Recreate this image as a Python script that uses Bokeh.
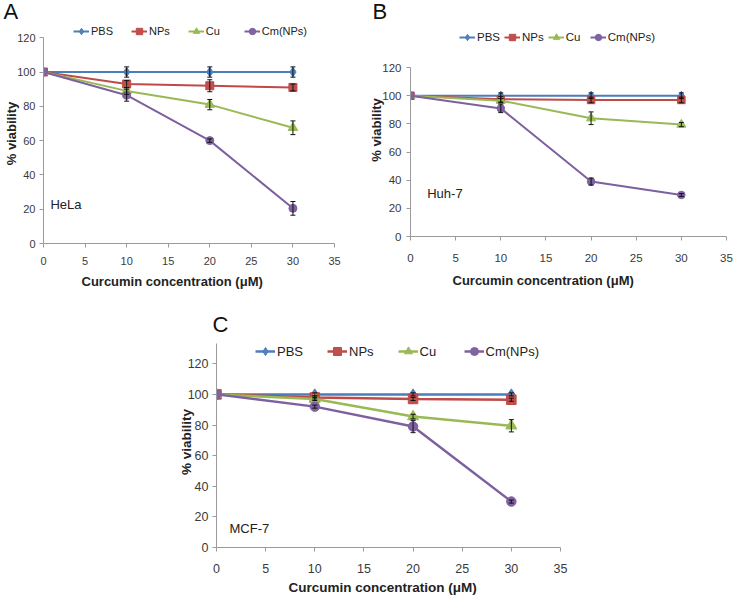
from bokeh.plotting import figure
from bokeh.models import (Range1d, FixedTicker, Label, Legend, LegendItem,
                          Whisker, TeeHead, ColumnDataSource, Spacer, Title)
from bokeh.layouts import row, column
from bokeh.embed import file_html
from bokeh.resources import INLINE

# ---------------- data ----------------
series_names = ["PBS", "NPs", "Cu", "Cm(NPs)"]
x_ticks = [0, 5, 10, 15, 20, 25, 30, 35]
y_ticks = [0, 20, 40, 60, 80, 100, 120]
x_title = "Curcumin concentration (μM)"
y_title = "% viability"

# Panel A - HeLa
a_conc = [0, 10, 20, 30]
a_pbs = [100, 100, 100, 100]
a_nps = [100, 93, 92, 91]
a_cu = [100, 89, 81, 67.5]
a_cm = [100, 86.5, 60, 20.5]
a_pbs_err = [0, 3, 3, 3]
a_nps_err = [0, 2, 3.5, 2]
a_cu_err = [0, 2, 3, 4]
a_cm_err = [0, 3.5, 1, 4]

# Panel B - Huh-7
b_conc = [0, 10, 20, 30]
b_pbs = [100, 100, 100, 100]
b_nps = [100, 97.5, 97, 97]
b_cu = [100, 96.5, 84, 79.5]
b_cm = [100, 91, 39, 29.5]
b_pbs_err = [0, 2, 2, 2]
b_nps_err = [0, 2, 2, 2]
b_cu_err = [0, 1.5, 4.5, 1.5]
b_cm_err = [0, 3, 2.5, 1]

# Panel C - MCF-7
c_conc = [0, 10, 20, 30]
c_pbs = [100, 100, 100, 100]
c_nps = [100, 98, 97, 96.5]
c_cu = [100, 97, 85.5, 79.5]
c_cm = [100, 92, 79, 30]
c_pbs_err = [0, 1, 1, 1]
c_nps_err = [0, 1, 1, 1]
c_cu_err = [0, 1, 1.5, 4]
c_cm_err = [0, 1, 4, 1]

line_colors = ["#4A7EBB", "#BE4B48", "#98B954", "#7D60A0"]
fill_colors = ["#4F81BD", "#C0504D", "#9BBB59", "#8064A2"]
markers = ["diamond", "square", "triangle", "circle"]

FONT = "Liberation Sans"
AXIS_COLOR = "#9a9a9a"
TICK_TEXT = "#3a3a3a"
TEXT = "#222222"


def make_panel(cfg):
    p = figure(width=cfg["width"], height=cfg["height"],
               x_range=Range1d(0, 35), y_range=Range1d(0, cfg["ymax"]),
               output_backend="svg", toolbar_location=None,
               min_border_left=cfg["mbl"], min_border_right=cfg["mbr"],
               min_border_top=cfg["mbt"], min_border_bottom=cfg["mbb"])
    p.outline_line_color = None
    p.xgrid.visible = False
    p.ygrid.visible = False
    p.background_fill_color = "white"
    p.border_fill_color = "white"

    # panel letter as the plot title
    p.title.text = cfg["letter"]
    p.title.align = "left"
    p.title.offset = cfg["letter_offset"]
    p.title.standoff = cfg["letter_standoff"]
    p.title.vertical_align = cfg["letter_valign"]
    p.title.text_font = FONT
    p.title.text_font_size = "22px"
    p.title.text_font_style = "normal"
    p.title.text_color = "#111111"

    for ax, ticks, bounds in ((p.xaxis, x_ticks, (0, 35)), (p.yaxis, y_ticks, (0, cfg["ybound"]))):
        ax.ticker = FixedTicker(ticks=ticks)
        ax.bounds = bounds
        ax.axis_line_color = AXIS_COLOR
        ax.axis_line_width = 1
        ax.major_tick_line_color = AXIS_COLOR
        ax.major_tick_out = 4
        ax.major_tick_in = 0
        ax.minor_tick_line_color = None
        ax.major_label_text_font = FONT
        ax.major_label_text_font_size = cfg["tick_fs"]
        ax.major_label_text_color = TICK_TEXT
    p.xaxis.major_label_standoff = cfg["xstand"]
    p.yaxis.major_label_standoff = cfg["ystand"]

    p.yaxis.axis_label = y_title
    p.yaxis.axis_label_text_font = FONT
    p.yaxis.axis_label_text_font_size = cfg["title_fs"]
    p.yaxis.axis_label_text_font_style = "bold"
    p.yaxis.axis_label_text_color = TEXT
    p.yaxis.axis_label_standoff = cfg["ytitle_standoff"]

    xt = Title(text=x_title, align="left", offset=cfg["xtitle_offset"],
               standoff=cfg["xtitle_standoff"], text_font=FONT,
               text_font_size=cfg["title_fs"], text_font_style="bold",
               text_color=TEXT)
    p.add_layout(xt, "below")

    items = []
    for i, name in enumerate(series_names):
        ys = cfg["series"][i]
        lr = p.line(cfg["conc"], ys, line_color=line_colors[i], line_width=cfg["lw"])
        extra = 1.5 if markers[i] in ("diamond", "triangle") else 0
        sr = p.scatter(cfg["conc"], ys, marker=markers[i], size=cfg["msize"] + extra,
                       fill_color=fill_colors[i], line_color=line_colors[i], line_width=1)
        items.append(LegendItem(label=name, renderers=[lr, sr]))
        errs = cfg["errors"][i]
        base, lo, up = [], [], []
        for xv, yv, e in zip(cfg["conc"], ys, errs):
            if e > 0:
                base.append(xv)
                lo.append(yv - e)
                up.append(yv + e)
        if base:
            src = ColumnDataSource(dict(base=base, lower=lo, upper=up))
            w = Whisker(source=src, base="base", lower="lower", upper="upper",
                        dimension="height", line_color="#111111", line_width=1,
                        level="annotation",
                        upper_head=TeeHead(size=5, line_color="#111111", line_width=1),
                        lower_head=TeeHead(size=5, line_color="#111111", line_width=1))
            p.add_layout(w)

    leg = Legend(items=items, orientation="horizontal", location=cfg["leg_loc"],
                 padding=0, margin=0, spacing=cfg["leg_spacing"],
                 glyph_width=cfg["leg_gw"], glyph_height=cfg["leg_gh"],
                 label_height=cfg["leg_gh"],
                 label_standoff=cfg["leg_standoff"],
                 label_text_font=FONT, label_text_font_size=cfg["leg_fs"],
                 label_text_color=TEXT,
                 border_line_alpha=0, background_fill_alpha=0)
    p.add_layout(leg)

    x, y, txt = cfg["cell"]
    p.add_layout(Label(x=x, y=y, text=txt, text_font=FONT, text_font_size="13px",
                       text_align="left", text_baseline="middle", text_color=TEXT))
    return p


cfgA = dict(width=366, height=300, ymax=128.3, ybound=120,
            mbl=43, mbr=32, mbt=22, mbb=57,
            letter="A", letter_offset=-40, letter_standoff=-4, letter_valign="top",
            tick_fs="11px", xstand=9, ystand=4, lw=2, msize=8,
            title_fs="13px", ytitle_standoff=-5, xtitle_offset=38, xtitle_standoff=8,
            conc=a_conc, series=[a_pbs, a_nps, a_cu, a_cm],
            errors=[a_pbs_err, a_nps_err, a_cu_err, a_cm_err],
            leg_loc=(30, 204), leg_spacing=18, leg_gw=16, leg_gh=16,
            leg_standoff=2, leg_fs="11px",
            cell=(0.84, 22.7, "HeLa"))

cfgB = dict(width=367, height=293, ymax=151.3, ybound=120,
            mbl=44, mbr=7, mbt=22, mbb=57,
            letter="B", letter_offset=-38, letter_standoff=-4, letter_valign="top",
            tick_fs="11.5px", xstand=13, ystand=5, lw=2, msize=7.5,
            title_fs="13px", ytitle_standoff=-5, xtitle_offset=42, xtitle_standoff=12,
            conc=b_conc, series=[b_pbs, b_nps, b_cu, b_cm],
            errors=[b_pbs_err, b_nps_err, b_cu_err, b_cm_err],
            leg_loc=(49, 191), leg_spacing=4, leg_gw=16, leg_gh=16,
            leg_standoff=2, leg_fs="11.5px",
            cell=(1.85, 30.75, "Huh-7"))

cfgC = dict(width=420, height=297, ymax=137.8, ybound=133,
            mbl=46, mbr=30, mbt=36, mbb=48,
            letter="C", letter_offset=-4, letter_standoff=0, letter_valign="bottom",
            tick_fs="12.5px", xstand=12, ystand=4, lw=2.5, msize=9.5,
            title_fs="13.5px", ytitle_standoff=-9, xtitle_offset=72, xtitle_standoff=5,
            conc=c_conc, series=[c_pbs, c_nps, c_cu, c_cm],
            errors=[c_pbs_err, c_nps_err, c_cu_err, c_cm_err],
            leg_loc=(39, 185), leg_spacing=24, leg_gw=20, leg_gh=22,
            leg_standoff=2, leg_fs="13px",
            cell=(1.32, 12.3, "MCF-7"))

pA = make_panel(cfgA)
pB = make_panel(cfgB)
pC = make_panel(cfgC)

layout = column(row(pA, pB), row(Spacer(width=170, height=297), pC))

open("out.html", "w").write(file_html(layout, INLINE))
